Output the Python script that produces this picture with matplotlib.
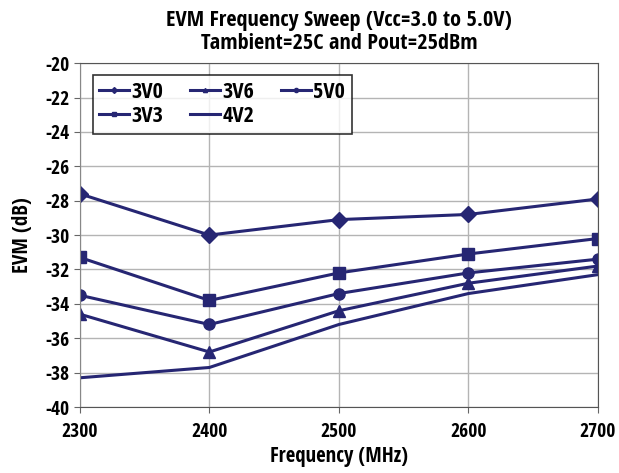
import numpy as np
import matplotlib
matplotlib.use('Agg')
import matplotlib.pyplot as plt
from matplotlib.lines import Line2D
from matplotlib import font_manager

names = set(f.name for f in font_manager.fontManager.ttflist)
fam = 'DejaVu Sans'
for c in ['Liberation Sans Narrow', 'DejaVu Sans Condensed', 'Open Sans Condensed',
          'Roboto Condensed', 'Noto Sans Condensed', 'Roboto']:
    if c in names:
        fam = c
        break

plt.rcParams['font.family'] = [fam, 'DejaVu Sans']
plt.rcParams['font.weight'] = 'bold'
plt.rcParams['axes.titleweight'] = 'bold'
plt.rcParams['axes.labelweight'] = 'bold'
plt.rcParams['axes.unicode_minus'] = False

freq = [2300, 2400, 2500, 2600, 2700]
evm_3v0 = [-27.6, -30.0, -29.1, -28.8, -27.9]
evm_3v3 = [-31.3, -33.8, -32.2, -31.1, -30.2]
evm_5v0 = [-33.5, -35.2, -33.4, -32.2, -31.4]
evm_3v6 = [-34.6, -36.8, -34.4, -32.8, -31.8]
evm_4v2 = [-38.3, -37.7, -35.2, -33.4, -32.3]

col = '#262673'
lw = 2.2

fig = plt.figure(figsize=(6.19, 4.73), dpi=100)
ax = fig.add_axes([0.129, 0.1395, 0.837, 0.727])

ax.plot(freq, evm_3v0, color=col, lw=lw, marker='D', ms=8)
ax.plot(freq, evm_3v3, color=col, lw=lw, marker='s', ms=8)
ax.plot(freq, evm_5v0, color=col, lw=lw, marker='o', ms=8)
ax.plot(freq, evm_3v6, color=col, lw=lw, marker='^', ms=8)
ax.plot(freq, evm_4v2, color=col, lw=lw)

ax.set_xlim(2300, 2700)
ax.set_ylim(-40, -20)
ax.set_xticks(freq)
ax.set_yticks(np.arange(-40, -19, 2))
ax.grid(True, color='#b4b4b4', lw=1)
ax.set_axisbelow(True)
for s in ['top', 'right']:
    ax.spines[s].set_color('#555555')
ax.spines['left'].set_color('#888888')
ax.spines['bottom'].set_color('#555555')
ax.tick_params(length=4, color='#666666', labelsize=14)
ax.tick_params(axis='x', pad=7)

ax.set_xlabel('Frequency (MHz)', fontsize=15, labelpad=3)
ax.set_ylabel('EVM (dB)', fontsize=15, labelpad=9)
ax.set_title('EVM Frequency Sweep (Vcc=3.0 to 5.0V)\nTambient=25C and Pout=25dBm',
             fontsize=16, linespacing=1.15, pad=10)

# legend order chosen so ncol=3 fills rows like the original
handles = [Line2D([], [], color=col, lw=lw, marker='D', ms=3),
           Line2D([], [], color=col, lw=lw, marker='s', ms=3),
           Line2D([], [], color=col, lw=lw, marker='^', ms=3),
           Line2D([], [], color=col, lw=lw),
           Line2D([], [], color=col, lw=lw, marker='o', ms=3)]
labels = ['3V0', '3V3', '3V6', '4V2', '5V0']
leg = ax.legend(handles, labels, ncol=3, loc='upper left', bbox_to_anchor=(0.025, 0.965),
                fontsize=16, frameon=True, fancybox=False, edgecolor='black',
                handlelength=1.35, handletextpad=0.1, columnspacing=1.2,
                labelspacing=0.15, borderpad=0.3, borderaxespad=0)
leg.get_frame().set_linewidth(1.2)

fig.savefig('out.png', dpi=100)
